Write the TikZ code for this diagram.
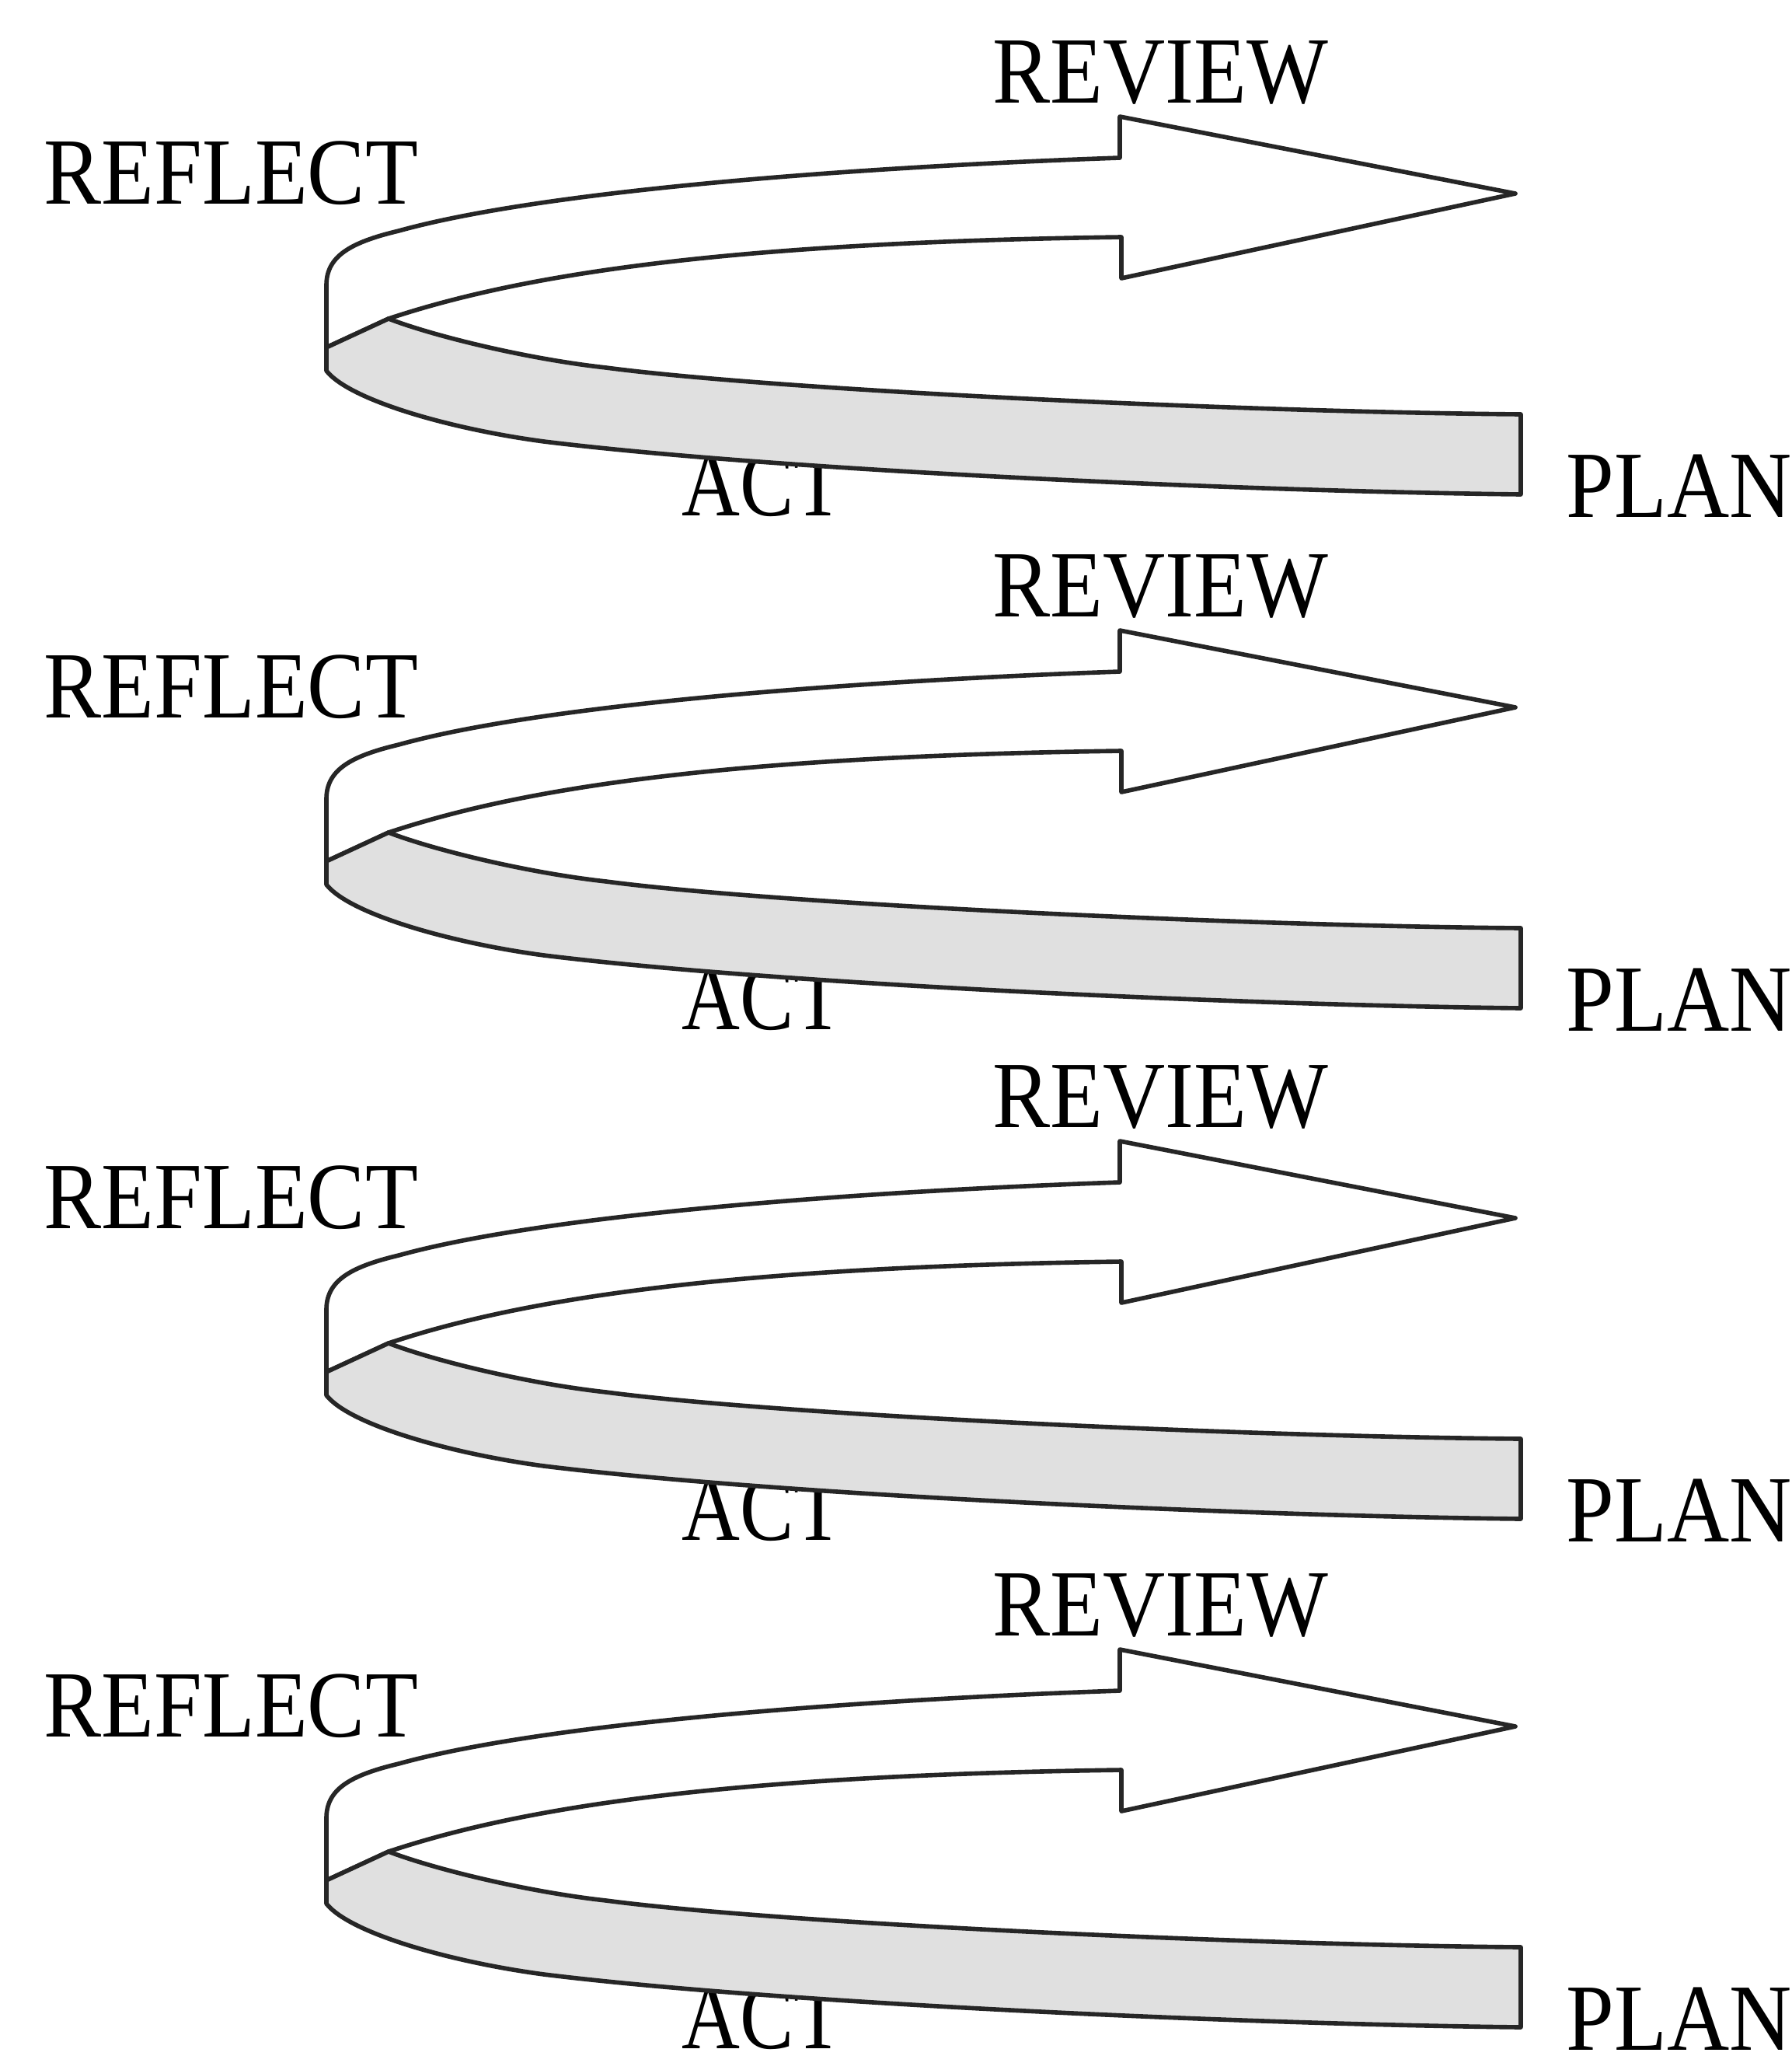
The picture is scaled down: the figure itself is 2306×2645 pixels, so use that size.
\documentclass[tikz,border=0pt]{standalone}
\usepackage{fontspec}
\setmainfont{Liberation Serif}
\tikzset{
  lbl/.style={inner sep=0pt, anchor=base west, font=\fontsize{34.7}{40}\selectfont, xscale=0.91},
  lblact/.style={inner sep=0pt, anchor=base west, font=\fontsize{34.7}{40}\selectfont, xscale=0.85},
  ribbon/.style={draw=black!85, line width=1.6pt, line join=round},
  backband/.style={ribbon, fill=white},
  frontband/.style={ribbon, fill=black!12},
}
\newcommand\pdcaloop[2]{%
  \begin{scope}[shift={(0,#1)}]
    \node[lbl] (reflect#2) at (56,262) {REFLECT};
    \node[lbl] (review#2) at (1277,132) {REVIEW};
    \node[lblact] (act#2) at (877,663) {ACT};
    \node[lbl] (plan#2) at (2015,665) {PLAN};
    \coordinate (edge#2) at (420,447);
    \coordinate (join#2) at (500,410);
    \coordinate (tip#2) at (1950,249);
    \path[backband] (edge#2) -- (420,367)
      .. controls (420,330) and (450,312) .. (513,297)
      .. controls (700,245) and (1100,215) .. (1441,203)
      -- (1441,150) -- (tip#2) -- (1443,358) -- (1443,305)
      .. controls (950,312) and (680,350) .. (join#2) -- cycle;
    \path[frontband] (edge#2) -- (join#2)
      .. controls (560,433) and (680,462) .. (780,473)
      .. controls (1000,502) and (1600,530) .. (1957,533)
      -- (1957,636)
      .. controls (1600,632) and (1000,605) .. (700,568)
      .. controls (580,552) and (450,515) .. (420,477) -- cycle;
  \end{scope}}
\begin{document}
\begin{tikzpicture}[x=0.01cm, y=-0.01cm]
  \useasboundingbox[fill=white] (0,0) rectangle (2306,2645);
  \pdcaloop{0}{a}
  \pdcaloop{661}{b}
  \pdcaloop{1318}{c}
  \pdcaloop{1972}{d}
\end{tikzpicture}
\end{document}
